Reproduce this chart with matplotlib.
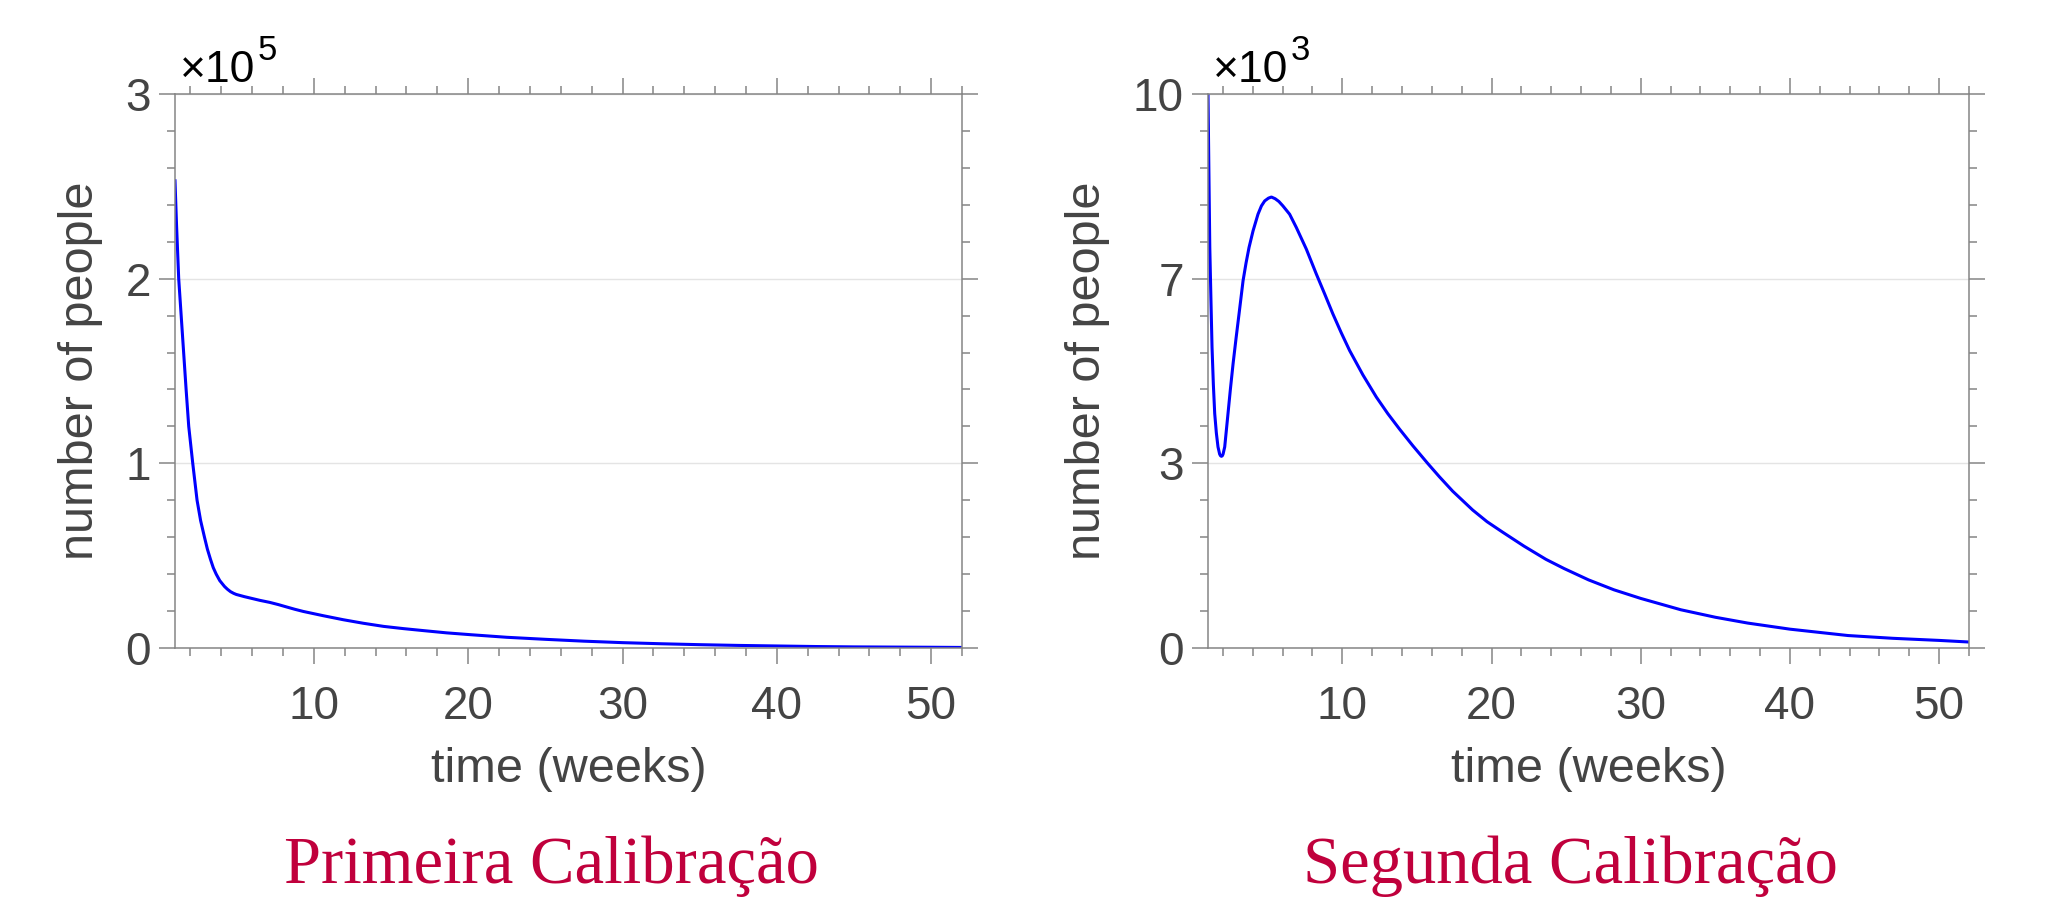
import numpy as np
import matplotlib
matplotlib.use("Agg")
import matplotlib.pyplot as plt
from matplotlib.ticker import FixedLocator, MultipleLocator, FixedFormatter

# ---------------- data ----------------
weeks_first = [1.0, 1.1, 1.24, 1.4, 1.56, 1.72, 1.89, 2.02, 2.15, 2.29, 2.43, 2.66,
               2.91, 3.1, 3.3, 3.48, 3.67, 3.9, 4.21, 4.4, 4.6, 4.8, 4.97, 5.5, 6.0,
               6.5, 7.14, 7.7, 8.2, 8.75, 9.31, 10.6, 11.91, 13.2, 14.52, 15.8,
               17.12, 18.6, 20.16, 22.5, 25.0, 27.5, 30.0, 32.5, 35.0, 37.5, 40.0,
               42.5, 45.0, 47.5, 50.0, 52.0]
people_first = [253000, 229000, 200000, 180000, 160000, 140000, 120000, 110000,
                100000, 90000, 80000, 69000, 60000, 53500, 48000, 43500, 40000,
                36500, 33300, 31800, 30500, 29600, 29000, 27800, 26800, 25800,
                24700, 23500, 22300, 21000, 19800, 17500, 15300, 13400, 11700,
                10500, 9400, 8200, 7200, 5800, 4700, 3700, 2900, 2300, 1800, 1400,
                1100, 800, 600, 500, 400, 300]

weeks_second = [1.0, 1.06, 1.12, 1.2, 1.27, 1.36, 1.45, 1.56, 1.67, 1.78, 1.84,
                1.90, 1.96, 2.01, 2.12, 2.23, 2.34, 2.5, 2.68, 2.88, 3.08, 3.35,
                3.55, 3.75, 4.02, 4.35, 4.58, 4.80, 5.05, 5.25, 5.5, 5.75, 6.02,
                6.47, 6.92, 7.59, 8.26, 8.82, 9.37, 9.93, 10.49, 11.38, 12.28,
                13.05, 13.84, 14.73, 15.73, 16.51, 17.4, 18.74, 19.7, 20.75,
                22.17, 23.65, 24.86, 26.5, 28.21, 30.0, 32.69, 35.0, 37.17, 40.0,
                43.89, 46.9, 50.0, 52.0]
people_second = [10000, 8600, 7230, 6250, 5430, 4750, 4230, 3880, 3630, 3500, 3470,
                 3460, 3470, 3500, 3630, 3930, 4230, 4670, 5130, 5590, 6030, 6630,
                 6950, 7230, 7530, 7830, 7980, 8070, 8120, 8140, 8110, 8060, 7980,
                 7830, 7590, 7200, 6750, 6390, 6030, 5690, 5370, 4930, 4530, 4230,
                 3950, 3650, 3330, 3090, 2830, 2490, 2280, 2090, 1840, 1600, 1435,
                 1230, 1050, 895, 690, 555, 450, 340, 225, 175, 137, 108]

x_ticks = [10, 20, 30, 40, 50]
x_tick_labels = ["10", "20", "30", "40", "50"]
y_ticks_first = [0, 1, 2, 3]
y_tick_labels_first = ["0", "1", "2", "3"]
y_ticks_second = [0, 10 / 3, 20 / 3, 10]
y_tick_labels_second = ["0", "3", "7", "10"]
titles = ["Primeira Calibração", "Segunda Calibração"]
x_label = "time (weeks)"
y_label = "number of people"

# ---------------- style ----------------
W, H = 2047, 900
fig = plt.figure(figsize=(W / 100, H / 100), dpi=100)
sans = ["Liberation Sans", "DejaVu Sans"]
serif = ["Liberation Serif", "DejaVu Serif"]
gray = "#858585"
txt = "#444444"


def px2fig_x(p):
    return p / W


def px2fig_y(p):
    return 1 - p / H


def make_axes(left, right, top, bottom):
    return fig.add_axes([px2fig_x(left), px2fig_y(bottom),
                         (right - left) / W, (bottom - top) / H])


def style(ax, yticks, ylabels, yminor, exp, ylabel_x):
    ax.set_xlim(1, 52)
    ax.xaxis.set_major_locator(FixedLocator(x_ticks))
    ax.xaxis.set_major_formatter(FixedFormatter(x_tick_labels))
    ax.xaxis.set_minor_locator(MultipleLocator(2))
    ax.yaxis.set_major_locator(FixedLocator(yticks))
    ax.yaxis.set_major_formatter(FixedFormatter(ylabels))
    ax.yaxis.set_minor_locator(FixedLocator(yminor))
    for s in ax.spines.values():
        s.set_color(gray)
        s.set_linewidth(1.1)
    ax.tick_params(which="both", direction="out", top=True, right=True,
                   labeltop=False, labelright=False, color=gray, width=1.1,
                   labelcolor=txt, labelsize=33)
    ax.tick_params(which="major", length=11.5)
    ax.tick_params(which="minor", length=5.8)
    ax.tick_params(axis="x", which="major", pad=15)
    ax.tick_params(axis="y", which="major", pad=6)
    for lab in ax.get_xticklabels() + ax.get_yticklabels():
        lab.set_fontfamily(sans)
    ax.yaxis.grid(True, which="major", color="#e4e4e4", linewidth=1.0)
    ax.set_axisbelow(True)
    ax.set_xlabel(x_label, fontsize=35, color=txt, family=sans)
    ax.xaxis.label.set_va("center")
    ax.xaxis.set_label_coords(0.5, -(770 - 648) / 554)
    ax.set_ylabel(y_label, fontsize=35, color=txt, family=sans)
    ax.yaxis.label.set_va("center")
    ax.yaxis.set_label_coords(ylabel_x, 0.5)
    ax.annotate("×10", xy=(0, 1), xycoords="axes fraction", xytext=(5, 12),
                textcoords="offset pixels", ha="left", va="baseline",
                fontsize=32, color="black", family=sans)
    ax.annotate(exp, xy=(0, 1), xycoords="axes fraction", xytext=(83, 34),
                textcoords="offset pixels", ha="left", va="baseline",
                fontsize=25, color="black", family=sans)


# left panel
ax1 = make_axes(175, 962, 94, 648)
ax1.plot(weeks_first, np.array(people_first) / 1e5, color="#0000FF", lw=2.2,
         solid_joinstyle="round")
ax1.set_ylim(0, 3)
style(ax1, y_ticks_first, y_tick_labels_first, np.arange(0, 3.01, 0.2), "5",
      (81 - 175) / 787)

# right panel
ax2 = make_axes(1208, 1969, 94, 648)
ax2.plot(weeks_second, np.array(people_second) / 1e3, color="#0000FF", lw=2.2,
         solid_joinstyle="round")
ax2.set_ylim(0, 10)
style(ax2, y_ticks_second, y_tick_labels_second, np.arange(16) * 10 / 15, "3",
      (1087 - 1208) / 761)

title_color = "#C0003C"
fig.text(px2fig_x(551), px2fig_y(883), titles[0], ha="center", va="baseline",
         fontsize=48, color=title_color, family=serif)
fig.text(px2fig_x(1570), px2fig_y(883), titles[1], ha="center", va="baseline",
         fontsize=48, color=title_color, family=serif)

fig.savefig("out.png", dpi=100)
